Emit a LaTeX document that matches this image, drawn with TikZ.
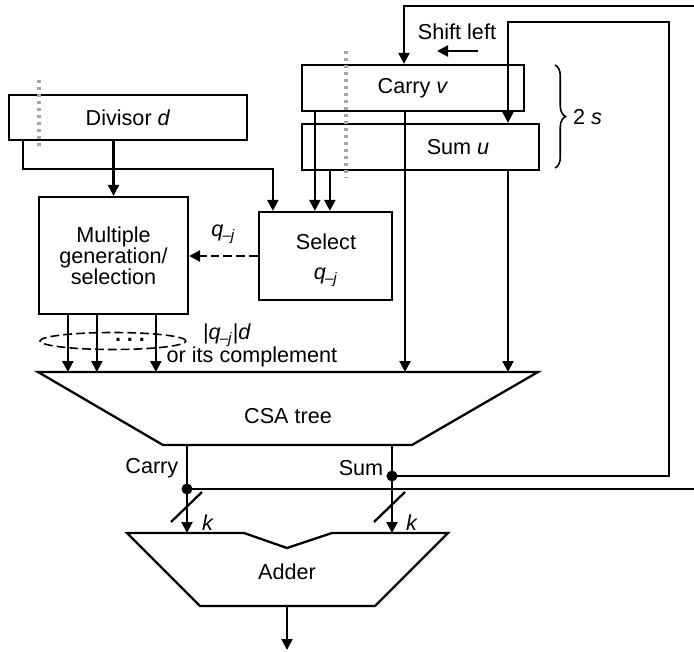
\documentclass[tikz,border=0pt]{standalone}
\usepackage{fontspec}
\setmainfont{Liberation Sans}
\usetikzlibrary{arrows.meta,decorations.pathreplacing}

\newcommand{\qj}{\textit{q}\textsubscript{\kern-0.5pt–\textit{j}}}

\begin{document}
\begin{tikzpicture}[x=0.02cm, y=-0.02cm, line width=1.3pt,
    font=\fontsize{12.3}{12}\selectfont,
    reg/.style={draw, inner sep=0pt},
    arr/.style={-{Triangle[length=2.2mm,width=2.2mm]}},
    cut/.style={gray!70, line width=2.2pt, dash pattern=on 1.7pt off 2.3pt},
    bus/.style={dash pattern=on 5pt off 2.3pt}]
  \useasboundingbox (0,0) rectangle (694,652);
  \clip (0,0) rectangle (694,652);

  % registers and blocks
  \node[reg, minimum width=4.76cm, minimum height=0.9cm]  (divisor) at (128,117.5) {Divisor \textit{d}};
  \node[reg, minimum width=4.44cm, minimum height=0.92cm] (carryv)  at (413,88)    {Carry \textit{v}};
  \node[reg, minimum width=4.74cm, minimum height=0.92cm] (sumu)    at (420.5,147) {};
  \node (sumlbl) at (458,147) {Sum \textit{u}};
  \node[reg, minimum width=2.98cm, minimum height=2.34cm, align=center] (mult) at (113.5,255.5)
    {Multiple\\generation/\\selection};
  \node[reg, minimum width=2.66cm, minimum height=1.76cm] (select) at (325.5,256) {};
  \node[align=center] (selectlbl) at (326,260) {Select\\[5pt]\qj};

  % CSA tree
  \draw (38,372) -- (538,372) -- (412,445) -- (163,445) -- cycle;
  \node (csa) at (288,416) {CSA tree};
  \coordinate (csatop)   at (288,372);
  \coordinate (csacarry) at (187,445);
  \coordinate (csasum)   at (392,445);

  % adder
  \draw (127,533) -- (244,533) -- (287,548) -- (332,533) -- (448,533) -- (375,606) -- (200,606) -- cycle;
  \node (adder) at (287,572) {Adder};
  \coordinate (addc)   at (187,533);
  \coordinate (adds)   at (392,533);
  \coordinate (addout) at (287,606);

  % divisor paths
  \draw[arr] (divisor.south -| mult.north) -- (mult.north);
  \draw[arr] ([xshift=0.3cm]divisor.south west) -- ++(0,28) -| ([xshift=0.3cm]select.north west);

  % carry/sum register paths
  \draw[arr] ([xshift=0.28cm]carryv.south west) -- ([xshift=0.28cm]carryv.south west |- select.north);
  \draw[arr] ([xshift=0.58cm]sumu.south west) -- ([xshift=0.58cm]sumu.south west |- select.north);
  \draw[arr] ([xshift=-0.16cm]carryv.south) -- ([xshift=-0.16cm]carryv.south |- csatop);
  \draw[arr] ([xshift=1.75cm]sumu.south) -- ([xshift=1.75cm]sumu.south |- csatop);

  % quotient digit
  \draw[arr, bus] (select.west) -- (select.west -| mult.east) node[midway, above=3pt] {\qj};

  % multiple into CSA
  \foreach \dx in {0.6cm,1.18cm,2.36cm}
    \draw[arr] ([xshift=\dx]mult.south west) -- ([xshift=\dx]mult.south west |- csatop);
  \draw[bus, line width=0.9pt] (113,341) ellipse [x radius=1.46cm, y radius=0.17cm];
  \node (dots) at (130,340) {\textbf{.\hspace{3.4pt}.\hspace{3.4pt}.}};
  \node (qd) at (227,335) {|\qj|\textit{d}};
  \node (compl) at (252,357) {or its complement};

  % CSA outputs to adder
  \coordinate (cdot) at (187,489);
  \coordinate (sdot) at (392,476);
  \draw[arr] (csacarry) -- (addc);
  \draw[arr] (csasum) -- (adds);
  \node[left=1pt] (carrylbl) at (187,468) {Carry};
  \node[left=1pt] (sumlbl2)  at (392,468) {Sum};
  \draw (171,522) -- (202,492);
  \draw (374,522) -- (405,492);
  \node (k1) at (208,523) {\textit{k}};
  \node (k2) at (412,523) {\textit{k}};
  \draw[arr] (addout) -- ++(0,44);

  % feedback, shifted left
  \draw[arr] (sdot) -| (669,22) -| ([xshift=1.75cm]sumu.north);
  \draw[arr] (cdot) -| (720,6) -| ([xshift=-0.18cm]carryv.north);
  \fill (cdot) circle (0.11cm);
  \fill (sdot) circle (0.11cm);
  \node (shift) at (457,32) {Shift left};
  \draw[arr] (478,51) -- (437,51);

  % word length
  \draw[line width=0.9pt, decorate, decoration={brace, amplitude=6pt}] (555,65) -- (555,168);
  \node[right] (twos) at (566,117) {2 \textit{s}};

  % cut lines
  \draw[cut] (39,80) -- (39,150);
  \draw[cut] (346,51) -- (346,178);
\end{tikzpicture}
\end{document}
